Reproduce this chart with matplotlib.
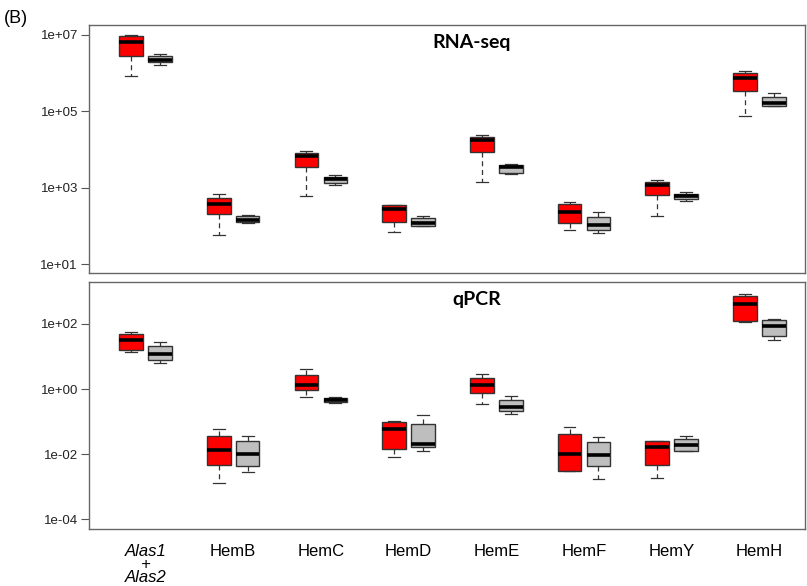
import numpy as np
import matplotlib.pyplot as plt

genes = ["Alas1\n+\nAlas2", "HemB", "HemC", "HemD", "HemE", "HemF", "HemY", "HemH"]

# log10 of (whisker low, Q1, median, Q3, whisker high)
rnaseq_red = [
    [5.92, 6.45, 6.81, 6.96, 7.00],
    [1.75, 2.31, 2.56, 2.72, 2.84],
    [2.77, 3.54, 3.83, 3.91, 3.96],
    [1.84, 2.11, 2.44, 2.54, 2.55],
    [3.16, 3.94, 4.25, 4.34, 4.39],
    [1.89, 2.07, 2.37, 2.56, 2.63],
    [2.27, 2.81, 3.07, 3.14, 3.19],
    [4.88, 5.53, 5.88, 6.01, 6.05],
]
rnaseq_grey = [
    [6.22, 6.29, 6.35, 6.44, 6.50],
    [2.08, 2.11, 2.16, 2.25, 2.29],
    [3.07, 3.13, 3.23, 3.29, 3.32],
    [1.99, 2.00, 2.07, 2.20, 2.27],
    [3.37, 3.39, 3.53, 3.59, 3.61],
    [1.80, 1.88, 2.02, 2.24, 2.37],
    [2.65, 2.70, 2.77, 2.84, 2.88],
    [5.13, 5.14, 5.21, 5.38, 5.48],
]
qpcr_red = [
    [1.13, 1.21, 1.50, 1.70, 1.76],
    [-2.90, -2.33, -1.88, -1.43, -1.24],
    [-0.25, -0.04, 0.13, 0.43, 0.62],
    [-2.10, -1.84, -1.23, -1.00, -0.99],
    [-0.45, -0.13, 0.12, 0.33, 0.45],
    [-2.52, -2.52, -2.01, -1.39, -1.18],
    [-2.72, -2.32, -1.79, -1.60, -1.59],
    [2.06, 2.10, 2.61, 2.87, 2.91],
]
qpcr_grey = [
    [0.79, 0.88, 1.08, 1.31, 1.43],
    [-2.56, -2.35, -1.99, -1.61, -1.44],
    [-0.43, -0.41, -0.34, -0.27, -0.25],
    [-1.90, -1.79, -1.69, -1.06, -0.81],
    [-0.77, -0.67, -0.54, -0.35, -0.22],
    [-2.77, -2.37, -2.02, -1.63, -1.46],
    [-1.89, -1.89, -1.71, -1.52, -1.44],
    [1.51, 1.63, 1.94, 2.11, 2.14],
]

plt.rcParams['font.family'] = ['Liberation Sans', 'DejaVu Sans']


def make_stats(rows):
    out = []
    for r in rows:
        v = [10 ** x for x in r]
        out.append(dict(whislo=v[0], q1=v[1], med=v[2], q3=v[3], whishi=v[4], fliers=[]))
    return out


def draw_panel(ax, red, grey, ylim, yticks, title, title_x):
    pos = np.arange(len(genes))
    for stats, offset, color in [(make_stats(red), -0.165, "#ff0000"),
                                 (make_stats(grey), 0.165, "#bebebe")]:
        bp = ax.bxp(stats, positions=pos + offset, widths=0.27, patch_artist=True,
                    showfliers=False, capwidths=0.135,
                    boxprops=dict(facecolor=color, edgecolor="#333333", linewidth=1),
                    medianprops=dict(color="black", linewidth=2.6),
                    whiskerprops=dict(color="#333333", linewidth=0.9, linestyle=(0, (4, 3))),
                    capprops=dict(color="#333333", linewidth=0.9))
    ax.set_yscale("log")
    ax.set_ylim(*ylim)
    ax.set_xlim(-0.644, 7.52)
    ax.set_yticks(yticks)
    ax.set_yticklabels(["1e%+03d" % np.log10(t) for t in yticks], fontsize=9.5, color="#222222")
    ax.yaxis.set_minor_locator(plt.NullLocator())
    ax.tick_params(axis="y", length=6, width=0.8, color="#555555", pad=2)
    for s in ax.spines.values():
        s.set_color("#666666")
        s.set_linewidth(1.0)
    ax.text(title_x, 0.93, title, transform=ax.transAxes, fontsize=14,
            fontweight="bold", family="Lato", va="center", ha="left")


fig = plt.figure(figsize=(8.07, 5.86), dpi=100)
ax1 = fig.add_axes([0.1103, 0.5341, 0.8872, 0.4232])
ax2 = fig.add_axes([0.1103, 0.0978, 0.8872, 0.4205])

draw_panel(ax1, rnaseq_red, rnaseq_grey, (10 ** 0.765, 10 ** 7.26),
           [1e1, 1e3, 1e5, 1e7], "RNA-seq", 0.480)
draw_panel(ax2, qpcr_red, qpcr_grey, (10 ** -4.29, 10 ** 3.28),
           [1e-4, 1e-2, 1e0, 1e2], "qPCR", 0.508)

ax1.set_xticks([])
ax2.set_xticks(np.arange(len(genes)))
ax2.set_xticklabels(genes, fontsize=12, linespacing=0.85)
ax2.get_xticklabels()[0].set_fontstyle("italic")
ax2.tick_params(axis="x", length=0, pad=11)

fig.text(0.005, 0.969, "(B)", fontsize=13, va="center", ha="left")

fig.savefig("out.png", dpi=100)
